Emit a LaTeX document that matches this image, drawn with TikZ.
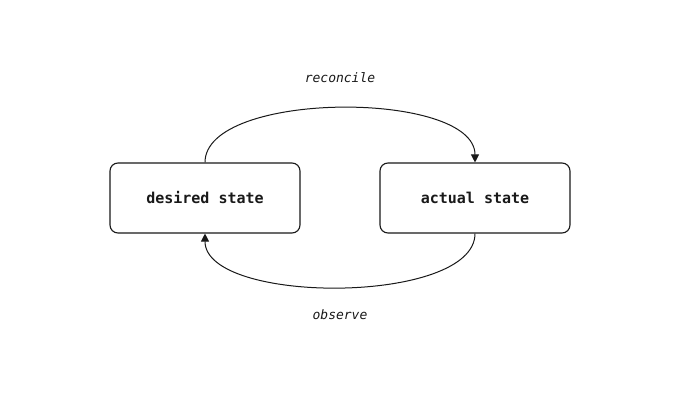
\documentclass[tikz,border=0pt]{standalone}
\usepackage{fontspec}
\setmonofont{DejaVu Sans Mono}
\usetikzlibrary{arrows.meta}
\begin{document}
\begin{tikzpicture}[x=1pt,y=1pt,
  box/.style={draw=black!90,line width=1.1pt,rounded corners=8pt,minimum width=190pt,minimum height=70pt,font=\ttfamily\bfseries\fontsize{15}{18}\selectfont,text=black!90},
  lbl/.style={font=\ttfamily\itshape\fontsize{13}{16}\selectfont,text=black!90},
  arr/.style={draw=black!90,line width=1pt,-{Triangle[length=8pt,width=8pt]}}]
\useasboundingbox (0,0) rectangle (680,400);
\node[box] (d) at (205,202) {desired state};
\node[box] (a) at (475,202) {actual state};
\node[lbl] (r) at (340,322) {reconcile};
\node[lbl] (o) at (340,85) {observe};
\draw[arr] (d.north) .. controls (205,310) and (475,310) .. (a.north);
\draw[arr] (a.south) .. controls (475,95) and (205,95) .. (d.south);
\end{tikzpicture}
\end{document}
